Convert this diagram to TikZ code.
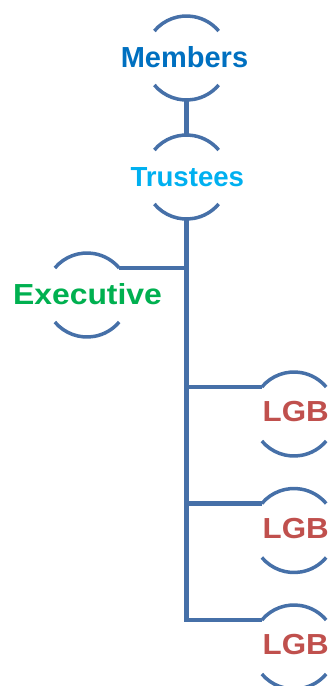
\documentclass[tikz,border=0pt]{standalone}
\usepackage{fontspec}
\setmainfont{Liberation Sans}
\definecolor{linecol}{RGB}{70,112,168}
\definecolor{membcol}{RGB}{0,112,192}
\definecolor{trustcol}{RGB}{0,176,240}
\definecolor{execcol}{RGB}{0,176,80}
\definecolor{lgbcol}{RGB}{192,80,77}
\tikzset{
  ring/.style={circle, minimum size=84pt, inner sep=0pt, outer sep=0pt},
  arcline/.style={draw=linecol, line width=3.5pt},
  conn/.style={draw=linecol, line width=4.5pt},
  lbl/.style={font=\bfseries\fontsize{29}{34}\selectfont, anchor=base, inner sep=0pt}
}
\begin{document}
\begin{tikzpicture}[x=1pt,y=1pt]
\useasboundingbox (0,0) rectangle (329,-686);
\clip (0,0) rectangle (329,-686);
% rings
\node[ring] (m) at (186.5,-58) {};
\node[ring] (t) at (186.5,-177) {};
\node[ring] (e) at (87,-295) {};
\node[ring] (l1) at (294,-414) {};
\node[ring] (l2) at (294,-530.5) {};
\node[ring] (l3) at (294,-647) {};
% arcs
\foreach \n in {m,t,e,l1,l2,l3}{
  \draw[arcline] (\n.140) arc[start angle=140, end angle=40, radius=42pt];
  \draw[arcline] (\n.220) arc[start angle=220, end angle=320, radius=42pt];
}
% connectors
\draw[conn] (m.south) -- (t.north);
\draw[conn] (t.south) |- (l3.140);
\draw[conn] (e.40) -- (e.40 -| t.south);
\draw[conn] (t.south |- l1.140) -- (l1.140);
\draw[conn] (t.south |- l2.140) -- (l2.140);
% labels
\node[lbl, text=membcol] (mt) at (184.5,-67.3) {Members};
\node[lbl, text=trustcol, font=\bfseries\fontsize{27.6}{33}\selectfont] (tt) at (187.3,-186.7) {Trustees};
\node[lbl, text=execcol] (et) at (87.5,-304) {\scalebox{1.1}[1]{Executive}};
\node[lbl, text=lgbcol] (lt1) at (295.8,-421.7) {\scalebox{1.08}[1]{LGB}};
\node[lbl, text=lgbcol] (lt2) at (295.8,-538.2) {\scalebox{1.08}[1]{LGB}};
\node[lbl, text=lgbcol] (lt3) at (295.8,-654.7) {\scalebox{1.08}[1]{LGB}};
\end{tikzpicture}
\end{document}
